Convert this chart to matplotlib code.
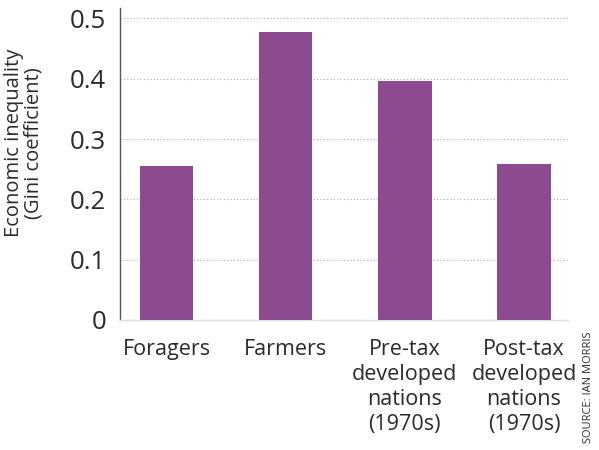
import matplotlib.pyplot as plt

categories = ['Foragers', 'Farmers', 'Pre-tax\ndeveloped\nnations\n(1970s)',
              'Post-tax\ndeveloped\nnations\n(1970s)']
gini = [0.255, 0.478, 0.397, 0.258]
yticks = [0, 0.1, 0.2, 0.3, 0.4, 0.5]
ytick_labels = ['0', '0.1', '0.2', '0.3', '0.4', '0.5']

plt.rcParams['font.family'] = ['Open Sans', 'DejaVu Sans']
text_color = '#2a2a2a'

fig = plt.figure(figsize=(5.99, 4.5), dpi=100)
ax = fig.add_axes([0.2003, 0.2889, 0.748, 0.693])

x = range(len(categories))
ax.bar(x, gini, width=0.45, color='#8c4a91', zorder=3)

ax.set_xlim(-0.39, 3.37)
ax.set_ylim(0, 0.517)
ax.set_yticks(yticks)
ax.set_yticklabels(ytick_labels, fontsize=18.5, color=text_color)
ax.set_xticks(list(x))
ax.set_xticklabels(categories, fontsize=15.5, color=text_color, linespacing=1.25)
ax.tick_params(axis='both', length=0)
ax.tick_params(axis='y', pad=10)
ax.tick_params(axis='x', pad=14)

ax.grid(axis='y', linestyle=(0, (1, 2)), color='#aaaaaa', linewidth=0.8, zorder=0)
for side in ['top', 'right']:
    ax.spines[side].set_visible(False)
ax.spines['left'].set_color('#555555')
ax.spines['left'].set_linewidth(1.0)
ax.spines['bottom'].set_color('#dddddd')
ax.spines['bottom'].set_linewidth(1.0)

fig.text(0.04, 0.682, 'Economic inequality\n(Gini coefficient)', rotation=90,
         ha='center', va='center', fontsize=14.5, color=text_color, linespacing=1.0)
fig.text(0.982, 0.14, 'SOURCE: IAN MORRIS', rotation=90, ha='center', va='center',
         fontsize=8, color=text_color)

fig.savefig('out.png', dpi=100)
